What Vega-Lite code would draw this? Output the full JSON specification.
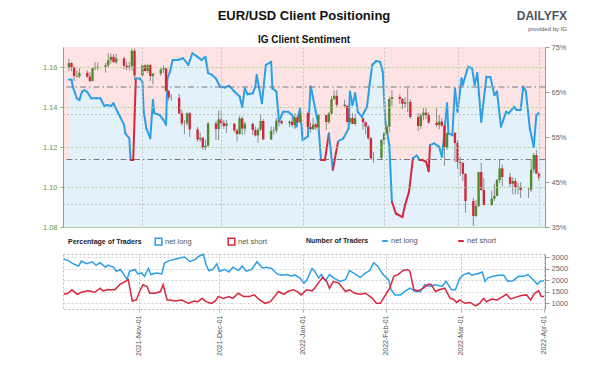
{
"$schema":"https://vega.github.io/schema/vega-lite/v6.json",
"padding":{"left":41,"top":9,"right":5,"bottom":5},
"background":"white",
"title":{"text":"DAILYFX","subtitle":"provided by IG","anchor":"end","frame":"group","fontSize":12,"fontWeight":"bold","color":"#4b5563","subtitleFontSize":6,"subtitleColor":"#555","subtitlePadding":3,"offset":-24,"dx":22},
"config":{"font":"Liberation Sans","axis":{"labelFontSize":7.5,"labelFont":"Liberation Sans"},"legend":{"labelFont":"Liberation Sans","titleFont":"Liberation Sans"}},
"spacing":19,
"datasets":{
"candles":[
{"d":"2021-10-04","o":1.1596,"h":1.1641,"l":1.1580,"c":1.1620},
{"d":"2021-10-05","o":1.1620,"h":1.1624,"l":1.1580,"c":1.1597},
{"d":"2021-10-06","o":1.1597,"h":1.1603,"l":1.1529,"c":1.1555},
{"d":"2021-10-07","o":1.1555,"h":1.1584,"l":1.1549,"c":1.1553},
{"d":"2021-10-08","o":1.1553,"h":1.1594,"l":1.1545,"c":1.1571},
{"d":"2021-10-11","o":1.1571,"h":1.1584,"l":1.1546,"c":1.1552},
{"d":"2021-10-12","o":1.1552,"h":1.1574,"l":1.1524,"c":1.1530},
{"d":"2021-10-13","o":1.1530,"h":1.1595,"l":1.1528,"c":1.1594},
{"d":"2021-10-14","o":1.1594,"h":1.1624,"l":1.1584,"c":1.1598},
{"d":"2021-10-15","o":1.1598,"h":1.1624,"l":1.1585,"c":1.1601},
{"d":"2021-10-18","o":1.1601,"h":1.1622,"l":1.1571,"c":1.1609},
{"d":"2021-10-19","o":1.1609,"h":1.1669,"l":1.1600,"c":1.1634},
{"d":"2021-10-20","o":1.1634,"h":1.1667,"l":1.1618,"c":1.1651},
{"d":"2021-10-21","o":1.1651,"h":1.1665,"l":1.1623,"c":1.1624},
{"d":"2021-10-22","o":1.1624,"h":1.1665,"l":1.1616,"c":1.1643},
{"d":"2021-10-25","o":1.1643,"h":1.1652,"l":1.1588,"c":1.1606},
{"d":"2021-10-26","o":1.1606,"h":1.1625,"l":1.1585,"c":1.1598},
{"d":"2021-10-27","o":1.1598,"h":1.1625,"l":1.1584,"c":1.1604},
{"d":"2021-10-28","o":1.1604,"h":1.1692,"l":1.1582,"c":1.1681},
{"d":"2021-10-29","o":1.1681,"h":1.1692,"l":1.1535,"c":1.1558},
{"d":"2021-11-01","o":1.1558,"h":1.1616,"l":1.1555,"c":1.1608},
{"d":"2021-11-02","o":1.1608,"h":1.1614,"l":1.1578,"c":1.1580},
{"d":"2021-11-03","o":1.1580,"h":1.1616,"l":1.1570,"c":1.1609},
{"d":"2021-11-04","o":1.1609,"h":1.1616,"l":1.1529,"c":1.1555},
{"d":"2021-11-05","o":1.1555,"h":1.1570,"l":1.1513,"c":1.1567},
{"d":"2021-11-08","o":1.1567,"h":1.1597,"l":1.1556,"c":1.1587},
{"d":"2021-11-09","o":1.1587,"h":1.1608,"l":1.1570,"c":1.1593},
{"d":"2021-11-10","o":1.1593,"h":1.1595,"l":1.1479,"c":1.1480},
{"d":"2021-11-11","o":1.1480,"h":1.1486,"l":1.1432,"c":1.1447},
{"d":"2021-11-12","o":1.1447,"h":1.1465,"l":1.1432,"c":1.1446},
{"d":"2021-11-15","o":1.1446,"h":1.1465,"l":1.1366,"c":1.1368},
{"d":"2021-11-16","o":1.1368,"h":1.1385,"l":1.1307,"c":1.1318},
{"d":"2021-11-17","o":1.1318,"h":1.1335,"l":1.1264,"c":1.1319},
{"d":"2021-11-18","o":1.1319,"h":1.1373,"l":1.1308,"c":1.1369},
{"d":"2021-11-19","o":1.1369,"h":1.1375,"l":1.1249,"c":1.1288},
{"d":"2021-11-22","o":1.1288,"h":1.1300,"l":1.1226,"c":1.1238},
{"d":"2021-11-23","o":1.1238,"h":1.1272,"l":1.1226,"c":1.1246},
{"d":"2021-11-24","o":1.1246,"h":1.1251,"l":1.1186,"c":1.1197},
{"d":"2021-11-25","o":1.1197,"h":1.1236,"l":1.1185,"c":1.1206},
{"d":"2021-11-26","o":1.1206,"h":1.1324,"l":1.1203,"c":1.1318},
{"d":"2021-11-29","o":1.1318,"h":1.1330,"l":1.1235,"c":1.1290},
{"d":"2021-11-30","o":1.1290,"h":1.1383,"l":1.1235,"c":1.1338},
{"d":"2021-12-01","o":1.1338,"h":1.1383,"l":1.1301,"c":1.1320},
{"d":"2021-12-02","o":1.1320,"h":1.1335,"l":1.1290,"c":1.1305},
{"d":"2021-12-03","o":1.1305,"h":1.1335,"l":1.1270,"c":1.1317},
{"d":"2021-12-06","o":1.1317,"h":1.1320,"l":1.1273,"c":1.1283},
{"d":"2021-12-07","o":1.1283,"h":1.1292,"l":1.1227,"c":1.1265},
{"d":"2021-12-08","o":1.1265,"h":1.1355,"l":1.1260,"c":1.1343},
{"d":"2021-12-09","o":1.1343,"h":1.1353,"l":1.1261,"c":1.1292},
{"d":"2021-12-10","o":1.1292,"h":1.1325,"l":1.1265,"c":1.1316},
{"d":"2021-12-13","o":1.1316,"h":1.1321,"l":1.1260,"c":1.1285},
{"d":"2021-12-14","o":1.1285,"h":1.1302,"l":1.1252,"c":1.1258},
{"d":"2021-12-15","o":1.1258,"h":1.1297,"l":1.1222,"c":1.1287},
{"d":"2021-12-16","o":1.1287,"h":1.1361,"l":1.1279,"c":1.1330},
{"d":"2021-12-17","o":1.1330,"h":1.1340,"l":1.1235,"c":1.1238},
{"d":"2021-12-20","o":1.1238,"h":1.1304,"l":1.1235,"c":1.1280},
{"d":"2021-12-21","o":1.1280,"h":1.1301,"l":1.1262,"c":1.1282},
{"d":"2021-12-22","o":1.1282,"h":1.1345,"l":1.1270,"c":1.1332},
{"d":"2021-12-23","o":1.1332,"h":1.1343,"l":1.1303,"c":1.1330},
{"d":"2021-12-24","o":1.1330,"h":1.1335,"l":1.1312,"c":1.1318},
{"d":"2021-12-27","o":1.1318,"h":1.1333,"l":1.1300,"c":1.1327},
{"d":"2021-12-28","o":1.1327,"h":1.1345,"l":1.1298,"c":1.1310},
{"d":"2021-12-29","o":1.1310,"h":1.1369,"l":1.1290,"c":1.1349},
{"d":"2021-12-30","o":1.1349,"h":1.1362,"l":1.1299,"c":1.1323},
{"d":"2021-12-31","o":1.1323,"h":1.1386,"l":1.1320,"c":1.1370},
{"d":"2022-01-03","o":1.1370,"h":1.1376,"l":1.1285,"c":1.1300},
{"d":"2022-01-04","o":1.1300,"h":1.1322,"l":1.1272,"c":1.1289},
{"d":"2022-01-05","o":1.1289,"h":1.1346,"l":1.1286,"c":1.1313},
{"d":"2022-01-06","o":1.1313,"h":1.1323,"l":1.1285,"c":1.1298},
{"d":"2022-01-07","o":1.1298,"h":1.1364,"l":1.1287,"c":1.1360},
{"d":"2022-01-10","o":1.1360,"h":1.1362,"l":1.1285,"c":1.1325},
{"d":"2022-01-11","o":1.1325,"h":1.1375,"l":1.1315,"c":1.1368},
{"d":"2022-01-12","o":1.1368,"h":1.1455,"l":1.1360,"c":1.1440},
{"d":"2022-01-13","o":1.1440,"h":1.1482,"l":1.1436,"c":1.1456},
{"d":"2022-01-14","o":1.1456,"h":1.1484,"l":1.1401,"c":1.1411},
{"d":"2022-01-17","o":1.1411,"h":1.1436,"l":1.1395,"c":1.1405},
{"d":"2022-01-18","o":1.1405,"h":1.1410,"l":1.1325,"c":1.1325},
{"d":"2022-01-19","o":1.1325,"h":1.1367,"l":1.1313,"c":1.1345},
{"d":"2022-01-20","o":1.1345,"h":1.1370,"l":1.1314,"c":1.1315},
{"d":"2022-01-21","o":1.1315,"h":1.1364,"l":1.1306,"c":1.1343},
{"d":"2022-01-24","o":1.1343,"h":1.1350,"l":1.1287,"c":1.1324},
{"d":"2022-01-25","o":1.1324,"h":1.1328,"l":1.1263,"c":1.1302},
{"d":"2022-01-26","o":1.1302,"h":1.1310,"l":1.1236,"c":1.1244},
{"d":"2022-01-27","o":1.1244,"h":1.1250,"l":1.1135,"c":1.1144},
{"d":"2022-01-28","o":1.1144,"h":1.1174,"l":1.1121,"c":1.1146},
{"d":"2022-01-31","o":1.1146,"h":1.1239,"l":1.1137,"c":1.1235},
{"d":"2022-02-01","o":1.1235,"h":1.1275,"l":1.1212,"c":1.1268},
{"d":"2022-02-02","o":1.1268,"h":1.1315,"l":1.1264,"c":1.1302},
{"d":"2022-02-03","o":1.1302,"h":1.1452,"l":1.1272,"c":1.1440},
{"d":"2022-02-04","o":1.1440,"h":1.1484,"l":1.1405,"c":1.1450},
{"d":"2022-02-07","o":1.1450,"h":1.1463,"l":1.1415,"c":1.1440},
{"d":"2022-02-08","o":1.1440,"h":1.1445,"l":1.1389,"c":1.1416},
{"d":"2022-02-09","o":1.1416,"h":1.1449,"l":1.1397,"c":1.1424},
{"d":"2022-02-10","o":1.1424,"h":1.1495,"l":1.1375,"c":1.1425},
{"d":"2022-02-11","o":1.1425,"h":1.1438,"l":1.1341,"c":1.1350},
{"d":"2022-02-14","o":1.1350,"h":1.1370,"l":1.1280,"c":1.1305},
{"d":"2022-02-15","o":1.1305,"h":1.1368,"l":1.1290,"c":1.1358},
{"d":"2022-02-16","o":1.1358,"h":1.1395,"l":1.1334,"c":1.1372},
{"d":"2022-02-17","o":1.1372,"h":1.1395,"l":1.1339,"c":1.1360},
{"d":"2022-02-18","o":1.1360,"h":1.1374,"l":1.1316,"c":1.1322},
{"d":"2022-02-21","o":1.1322,"h":1.1395,"l":1.1300,"c":1.1310},
{"d":"2022-02-22","o":1.1310,"h":1.1360,"l":1.1289,"c":1.1327},
{"d":"2022-02-23","o":1.1327,"h":1.1345,"l":1.1300,"c":1.1307},
{"d":"2022-02-24","o":1.1307,"h":1.1314,"l":1.1106,"c":1.1197},
{"d":"2022-02-25","o":1.1197,"h":1.1273,"l":1.1185,"c":1.1270},
{"d":"2022-02-28","o":1.1270,"h":1.1277,"l":1.1124,"c":1.1220},
{"d":"2022-03-01","o":1.1220,"h":1.1233,"l":1.1091,"c":1.1125},
{"d":"2022-03-02","o":1.1125,"h":1.1152,"l":1.1055,"c":1.1120},
{"d":"2022-03-03","o":1.1120,"h":1.1125,"l":1.1030,"c":1.1066},
{"d":"2022-03-04","o":1.1066,"h":1.1068,"l":1.0871,"c":1.0930},
{"d":"2022-03-07","o":1.0930,"h":1.0946,"l":1.0806,"c":1.0855},
{"d":"2022-03-08","o":1.0855,"h":1.0934,"l":1.0850,"c":1.0905},
{"d":"2022-03-09","o":1.0905,"h":1.1076,"l":1.0900,"c":1.1075},
{"d":"2022-03-10","o":1.1075,"h":1.1121,"l":1.0981,"c":1.0985},
{"d":"2022-03-11","o":1.0985,"h":1.1044,"l":1.0908,"c":1.0910},
{"d":"2022-03-14","o":1.0910,"h":1.0983,"l":1.0905,"c":1.0942},
{"d":"2022-03-15","o":1.0942,"h":1.1017,"l":1.0930,"c":1.0955},
{"d":"2022-03-16","o":1.0955,"h":1.1041,"l":1.0955,"c":1.1035},
{"d":"2022-03-17","o":1.1035,"h":1.1137,"l":1.1020,"c":1.1093},
{"d":"2022-03-18","o":1.1093,"h":1.1112,"l":1.1004,"c":1.1050},
{"d":"2022-03-21","o":1.1050,"h":1.1070,"l":1.1000,"c":1.1016},
{"d":"2022-03-22","o":1.1016,"h":1.1048,"l":1.0963,"c":1.1030},
{"d":"2022-03-23","o":1.1030,"h":1.1044,"l":1.0963,"c":1.1000},
{"d":"2022-03-24","o":1.1000,"h":1.1020,"l":1.0965,"c":1.1001},
{"d":"2022-03-25","o":1.1001,"h":1.1024,"l":1.0945,"c":1.0985},
{"d":"2022-03-28","o":1.0985,"h":1.0998,"l":1.0945,"c":1.0986},
{"d":"2022-03-29","o":1.0986,"h":1.1137,"l":1.0975,"c":1.1087},
{"d":"2022-03-30","o":1.1087,"h":1.1170,"l":1.1070,"c":1.1160},
{"d":"2022-03-31","o":1.1160,"h":1.1185,"l":1.1065,"c":1.1067},
{"d":"2022-04-01","o":1.1067,"h":1.1076,"l":1.1030,"c":1.1046}
],
"senti":[
{"d":"2021-10-04","p":67.8,"s":"net long"},
{"d":"2021-10-05","p":67.7,"s":"net long"},
{"d":"2021-10-05T12:00:00Z","p":66.2,"s":"net long"},
{"d":"2021-10-07","p":63.6,"s":"net long"},
{"d":"2021-10-08","p":63.2,"s":"net long"},
{"d":"2021-10-09","p":65.1,"s":"net long"},
{"d":"2021-10-10","p":65.4,"s":"net long"},
{"d":"2021-10-11","p":65.0,"s":"net long"},
{"d":"2021-10-12T12:00:00Z","p":63.6,"s":"net long"},
{"d":"2021-10-14T12:00:00Z","p":63.6,"s":"net long"},
{"d":"2021-10-16","p":63.6,"s":"net long"},
{"d":"2021-10-17T12:00:00Z","p":61.9,"s":"net long"},
{"d":"2021-10-18T12:00:00Z","p":62.1,"s":"net long"},
{"d":"2021-10-20","p":61.9,"s":"net long"},
{"d":"2021-10-21","p":62.5,"s":"net long"},
{"d":"2021-10-22T12:00:00Z","p":60.6,"s":"net long"},
{"d":"2021-10-23T12:00:00Z","p":59.5,"s":"net long"},
{"d":"2021-10-25","p":57.7,"s":"net long"},
{"d":"2021-10-25T12:00:00Z","p":55.8,"s":"net long"},
{"d":"2021-10-27","p":54.7,"s":"net long"},
{"d":"2021-10-27T12:00:00Z","p":49.9,"s":"net short"},
{"d":"2021-10-28T12:00:00Z","p":49.9,"s":"net short"},
{"d":"2021-10-29T12:00:00Z","p":68.0,"s":"net long"},
{"d":"2021-10-31","p":68.0,"s":"net long"},
{"d":"2021-11-01","p":67.3,"s":"net long"},
{"d":"2021-11-01T12:00:00Z","p":60.6,"s":"net long"},
{"d":"2021-11-02T12:00:00Z","p":56.9,"s":"net long"},
{"d":"2021-11-04","p":54.7,"s":"net long"},
{"d":"2021-11-05","p":63.2,"s":"net long"},
{"d":"2021-11-05T12:00:00Z","p":60.3,"s":"net long"},
{"d":"2021-11-07T12:00:00Z","p":59.9,"s":"net long"},
{"d":"2021-11-09","p":58.8,"s":"net long"},
{"d":"2021-11-10","p":57.7,"s":"net long"},
{"d":"2021-11-10T12:00:00Z","p":68.0,"s":"net long"},
{"d":"2021-11-11T12:00:00Z","p":69.5,"s":"net long"},
{"d":"2021-11-12T12:00:00Z","p":72.1,"s":"net long"},
{"d":"2021-11-14T12:00:00Z","p":72.1,"s":"net long"},
{"d":"2021-11-16T12:00:00Z","p":72.5,"s":"net long"},
{"d":"2021-11-18","p":71.4,"s":"net long"},
{"d":"2021-11-18T12:00:00Z","p":71.0,"s":"net long"},
{"d":"2021-11-20","p":73.6,"s":"net long"},
{"d":"2021-11-22","p":72.8,"s":"net long"},
{"d":"2021-11-23T12:00:00Z","p":72.1,"s":"net long"},
{"d":"2021-11-25","p":72.8,"s":"net long"},
{"d":"2021-11-26","p":69.2,"s":"net long"},
{"d":"2021-11-27T12:00:00Z","p":68.8,"s":"net long"},
{"d":"2021-11-29","p":68.0,"s":"net long"},
{"d":"2021-11-30T12:00:00Z","p":66.2,"s":"net long"},
{"d":"2021-12-02T12:00:00Z","p":66.0,"s":"net long"},
{"d":"2021-12-04","p":66.4,"s":"net long"},
{"d":"2021-12-06","p":65.1,"s":"net long"},
{"d":"2021-12-08","p":64.0,"s":"net long"},
{"d":"2021-12-09","p":61.7,"s":"net long"},
{"d":"2021-12-10","p":65.8,"s":"net long"},
{"d":"2021-12-11","p":64.5,"s":"net long"},
{"d":"2021-12-13","p":64.7,"s":"net long"},
{"d":"2021-12-14","p":66.2,"s":"net long"},
{"d":"2021-12-14T12:00:00Z","p":68.8,"s":"net long"},
{"d":"2021-12-16T12:00:00Z","p":62.5,"s":"net long"},
{"d":"2021-12-18","p":71.0,"s":"net long"},
{"d":"2021-12-20","p":71.7,"s":"net long"},
{"d":"2021-12-20T12:00:00Z","p":65.8,"s":"net long"},
{"d":"2021-12-22","p":65.1,"s":"net long"},
{"d":"2021-12-23","p":58.4,"s":"net long"},
{"d":"2021-12-24T12:00:00Z","p":60.6,"s":"net long"},
{"d":"2021-12-26T12:00:00Z","p":60.6,"s":"net long"},
{"d":"2021-12-28","p":59.9,"s":"net long"},
{"d":"2021-12-29T12:00:00Z","p":57.3,"s":"net long"},
{"d":"2021-12-31","p":61.4,"s":"net long"},
{"d":"2022-01-01","p":54.3,"s":"net long"},
{"d":"2022-01-03","p":55.1,"s":"net long"},
{"d":"2022-01-04","p":66.2,"s":"net long"},
{"d":"2022-01-04T12:00:00Z","p":65.1,"s":"net long"},
{"d":"2022-01-06","p":60.6,"s":"net long"},
{"d":"2022-01-07","p":57.7,"s":"net long"},
{"d":"2022-01-08","p":49.9,"s":"net short"},
{"d":"2022-01-09T12:00:00Z","p":49.9,"s":"net short"},
{"d":"2022-01-11","p":55.8,"s":"net long"},
{"d":"2022-01-12T12:00:00Z","p":47.7,"s":"net short"},
{"d":"2022-01-14T12:00:00Z","p":54.0,"s":"net long"},
{"d":"2022-01-16T12:00:00Z","p":54.7,"s":"net long"},
{"d":"2022-01-18T12:00:00Z","p":56.9,"s":"net long"},
{"d":"2022-01-19","p":65.1,"s":"net long"},
{"d":"2022-01-20","p":62.1,"s":"net long"},
{"d":"2022-01-21","p":64.7,"s":"net long"},
{"d":"2022-01-22","p":60.6,"s":"net long"},
{"d":"2022-01-23T12:00:00Z","p":59.5,"s":"net long"},
{"d":"2022-01-24T12:00:00Z","p":60.6,"s":"net long"},
{"d":"2022-01-25T12:00:00Z","p":61.7,"s":"net long"},
{"d":"2022-01-26T12:00:00Z","p":66.6,"s":"net long"},
{"d":"2022-01-27T12:00:00Z","p":71.0,"s":"net long"},
{"d":"2022-01-29","p":71.9,"s":"net long"},
{"d":"2022-01-30T12:00:00Z","p":71.7,"s":"net long"},
{"d":"2022-01-31T12:00:00Z","p":69.5,"s":"net long"},
{"d":"2022-02-01T12:00:00Z","p":58.4,"s":"net long"},
{"d":"2022-02-03","p":53.2,"s":"net long"},
{"d":"2022-02-04","p":40.6,"s":"net short"},
{"d":"2022-02-05T12:00:00Z","p":38.0,"s":"net short"},
{"d":"2022-02-08","p":37.2,"s":"net short"},
{"d":"2022-02-09","p":39.9,"s":"net short"},
{"d":"2022-02-10T12:00:00Z","p":42.8,"s":"net short"},
{"d":"2022-02-12","p":50.3,"s":"net long"},
{"d":"2022-02-13T12:00:00Z","p":50.9,"s":"net long"},
{"d":"2022-02-14T12:00:00Z","p":49.9,"s":"net short"},
{"d":"2022-02-15T12:00:00Z","p":49.9,"s":"net short"},
{"d":"2022-02-17","p":49.5,"s":"net short"},
{"d":"2022-02-18","p":47.4,"s":"net short"},
{"d":"2022-02-18T12:00:00Z","p":53.2,"s":"net long"},
{"d":"2022-02-20","p":53.6,"s":"net long"},
{"d":"2022-02-22","p":52.8,"s":"net long"},
{"d":"2022-02-23","p":50.6,"s":"net long"},
{"d":"2022-02-23T12:00:00Z","p":53.2,"s":"net long"},
{"d":"2022-02-25","p":62.5,"s":"net long"},
{"d":"2022-02-25T12:00:00Z","p":55.8,"s":"net long"},
{"d":"2022-02-27","p":55.4,"s":"net long"},
{"d":"2022-02-28","p":65.8,"s":"net long"},
{"d":"2022-03-01","p":60.6,"s":"net long"},
{"d":"2022-03-02T12:00:00Z","p":68.0,"s":"net long"},
{"d":"2022-03-03","p":66.6,"s":"net long"},
{"d":"2022-03-05","p":70.6,"s":"net long"},
{"d":"2022-03-06T12:00:00Z","p":70.3,"s":"net long"},
{"d":"2022-03-07T12:00:00Z","p":66.6,"s":"net long"},
{"d":"2022-03-08T12:00:00Z","p":69.2,"s":"net long"},
{"d":"2022-03-10","p":58.4,"s":"net long"},
{"d":"2022-03-12","p":68.4,"s":"net long"},
{"d":"2022-03-13T12:00:00Z","p":68.3,"s":"net long"},
{"d":"2022-03-15","p":64.3,"s":"net long"},
{"d":"2022-03-16","p":65.1,"s":"net long"},
{"d":"2022-03-17T12:00:00Z","p":57.3,"s":"net long"},
{"d":"2022-03-19T12:00:00Z","p":60.6,"s":"net long"},
{"d":"2022-03-20T12:00:00Z","p":60.3,"s":"net long"},
{"d":"2022-03-22T12:00:00Z","p":61.7,"s":"net long"},
{"d":"2022-03-23T12:00:00Z","p":61.0,"s":"net long"},
{"d":"2022-03-25","p":61.0,"s":"net long"},
{"d":"2022-03-26","p":66.2,"s":"net long"},
{"d":"2022-03-27","p":65.1,"s":"net long"},
{"d":"2022-03-28T12:00:00Z","p":56.9,"s":"net long"},
{"d":"2022-03-30","p":52.8,"s":"net long"},
{"d":"2022-03-31","p":59.9,"s":"net long"},
{"d":"2022-04-01","p":60.3,"s":"net long"}
],
"traders":[
{"d":"2021-10-04","series":"net long","v":2899},
{"d":"2021-10-05T12:00:00Z","series":"net long","v":2855},
{"d":"2021-10-07T12:00:00Z","series":"net long","v":2707},
{"d":"2021-10-09T12:00:00Z","series":"net long","v":2604},
{"d":"2021-10-10T12:00:00Z","series":"net long","v":2824},
{"d":"2021-10-12T12:00:00Z","series":"net long","v":2707},
{"d":"2021-10-14T12:00:00Z","series":"net long","v":2795},
{"d":"2021-10-16","series":"net long","v":2648},
{"d":"2021-10-17T12:00:00Z","series":"net long","v":2750},
{"d":"2021-10-19T12:00:00Z","series":"net long","v":2560},
{"d":"2021-10-20T12:00:00Z","series":"net long","v":2648},
{"d":"2021-10-22T12:00:00Z","series":"net long","v":2560},
{"d":"2021-10-23T12:00:00Z","series":"net long","v":2385},
{"d":"2021-10-25","series":"net long","v":2460},
{"d":"2021-10-26","series":"net long","v":2310},
{"d":"2021-10-27T12:00:00Z","series":"net long","v":2020},
{"d":"2021-10-28T12:00:00Z","series":"net long","v":2385},
{"d":"2021-10-30T12:00:00Z","series":"net long","v":2460},
{"d":"2021-10-31T12:00:00Z","series":"net long","v":2266},
{"d":"2021-11-02","series":"net long","v":2310},
{"d":"2021-11-03","series":"net long","v":2165},
{"d":"2021-11-04T12:00:00Z","series":"net long","v":2502},
{"d":"2021-11-05T12:00:00Z","series":"net long","v":2240},
{"d":"2021-11-07T12:00:00Z","series":"net long","v":2310},
{"d":"2021-11-09T12:00:00Z","series":"net long","v":2266},
{"d":"2021-11-10T12:00:00Z","series":"net long","v":2750},
{"d":"2021-11-12T12:00:00Z","series":"net long","v":2855},
{"d":"2021-11-14T12:00:00Z","series":"net long","v":2899},
{"d":"2021-11-16T12:00:00Z","series":"net long","v":2970},
{"d":"2021-11-18","series":"net long","v":3000},
{"d":"2021-11-20","series":"net long","v":2795},
{"d":"2021-11-22","series":"net long","v":2899},
{"d":"2021-11-23T12:00:00Z","series":"net long","v":3044},
{"d":"2021-11-25","series":"net long","v":3119},
{"d":"2021-11-26","series":"net long","v":2678},
{"d":"2021-11-27","series":"net long","v":2415},
{"d":"2021-11-28T12:00:00Z","series":"net long","v":2460},
{"d":"2021-11-30","series":"net long","v":2707},
{"d":"2021-12-01","series":"net long","v":2385},
{"d":"2021-12-03","series":"net long","v":2460},
{"d":"2021-12-04T12:00:00Z","series":"net long","v":2354},
{"d":"2021-12-06","series":"net long","v":2560},
{"d":"2021-12-08","series":"net long","v":2415},
{"d":"2021-12-09T12:00:00Z","series":"net long","v":2604},
{"d":"2021-12-11","series":"net long","v":2385},
{"d":"2021-12-13","series":"net long","v":2460},
{"d":"2021-12-15","series":"net long","v":2795},
{"d":"2021-12-17","series":"net long","v":2530},
{"d":"2021-12-18T12:00:00Z","series":"net long","v":2560},
{"d":"2021-12-20T12:00:00Z","series":"net long","v":2502},
{"d":"2021-12-22T12:00:00Z","series":"net long","v":2266},
{"d":"2021-12-24","series":"net long","v":2209},
{"d":"2021-12-26","series":"net long","v":2240},
{"d":"2021-12-28","series":"net long","v":2165},
{"d":"2021-12-29","series":"net long","v":2240},
{"d":"2021-12-31","series":"net long","v":2090},
{"d":"2022-01-01T12:00:00Z","series":"net long","v":1870},
{"d":"2022-01-02T12:00:00Z","series":"net long","v":1976},
{"d":"2022-01-04T12:00:00Z","series":"net long","v":2502},
{"d":"2022-01-05T12:00:00Z","series":"net long","v":2385},
{"d":"2022-01-07","series":"net long","v":2090},
{"d":"2022-01-08","series":"net long","v":2240},
{"d":"2022-01-09T12:00:00Z","series":"net long","v":1976},
{"d":"2022-01-11","series":"net long","v":2240},
{"d":"2022-01-13","series":"net long","v":2064},
{"d":"2022-01-15","series":"net long","v":1945},
{"d":"2022-01-17","series":"net long","v":2020},
{"d":"2022-01-18T12:00:00Z","series":"net long","v":2415},
{"d":"2022-01-20T12:00:00Z","series":"net long","v":2266},
{"d":"2022-01-22T12:00:00Z","series":"net long","v":2121},
{"d":"2022-01-24T12:00:00Z","series":"net long","v":2310},
{"d":"2022-01-26","series":"net long","v":2415},
{"d":"2022-01-27T12:00:00Z","series":"net long","v":2750},
{"d":"2022-01-29","series":"net long","v":2604},
{"d":"2022-01-31","series":"net long","v":2240},
{"d":"2022-02-02","series":"net long","v":2020},
{"d":"2022-02-03","series":"net long","v":1580},
{"d":"2022-02-04T12:00:00Z","series":"net long","v":1360},
{"d":"2022-02-06T12:00:00Z","series":"net long","v":1360},
{"d":"2022-02-08","series":"net long","v":1505},
{"d":"2022-02-10","series":"net long","v":1650},
{"d":"2022-02-12","series":"net long","v":1505},
{"d":"2022-02-14","series":"net long","v":1505},
{"d":"2022-02-15T12:00:00Z","series":"net long","v":1800},
{"d":"2022-02-17T12:00:00Z","series":"net long","v":1725},
{"d":"2022-02-19T12:00:00Z","series":"net long","v":1800},
{"d":"2022-02-22","series":"net long","v":1725},
{"d":"2022-02-23T12:00:00Z","series":"net long","v":1945},
{"d":"2022-02-25T12:00:00Z","series":"net long","v":1580},
{"d":"2022-02-27","series":"net long","v":1580},
{"d":"2022-02-28T12:00:00Z","series":"net long","v":2064},
{"d":"2022-03-02","series":"net long","v":2240},
{"d":"2022-03-04","series":"net long","v":2310},
{"d":"2022-03-05","series":"net long","v":2209},
{"d":"2022-03-07","series":"net long","v":2266},
{"d":"2022-03-09","series":"net long","v":2354},
{"d":"2022-03-10","series":"net long","v":1945},
{"d":"2022-03-11","series":"net long","v":2090},
{"d":"2022-03-13","series":"net long","v":2165},
{"d":"2022-03-15","series":"net long","v":2209},
{"d":"2022-03-17","series":"net long","v":2209},
{"d":"2022-03-18T12:00:00Z","series":"net long","v":1945},
{"d":"2022-03-20T12:00:00Z","series":"net long","v":1976},
{"d":"2022-03-22T12:00:00Z","series":"net long","v":2165},
{"d":"2022-03-24T12:00:00Z","series":"net long","v":2165},
{"d":"2022-03-26","series":"net long","v":2240},
{"d":"2022-03-28","series":"net long","v":2020},
{"d":"2022-03-29T12:00:00Z","series":"net long","v":1826},
{"d":"2022-03-30T12:00:00Z","series":"net long","v":1945},
{"d":"2022-04-01","series":"net long","v":1976},
{"d":"2021-10-04","series":"net short","v":1387},
{"d":"2021-10-05T12:00:00Z","series":"net short","v":1431},
{"d":"2021-10-07","series":"net short","v":1580},
{"d":"2021-10-09","series":"net short","v":1387},
{"d":"2021-10-10T12:00:00Z","series":"net short","v":1475},
{"d":"2021-10-13","series":"net short","v":1536},
{"d":"2021-10-15T12:00:00Z","series":"net short","v":1475},
{"d":"2021-10-17T12:00:00Z","series":"net short","v":1650},
{"d":"2021-10-18T12:00:00Z","series":"net short","v":1536},
{"d":"2021-10-20T12:00:00Z","series":"net short","v":1580},
{"d":"2021-10-23","series":"net short","v":1580},
{"d":"2021-10-25","series":"net short","v":1826},
{"d":"2021-10-27","series":"net short","v":1945},
{"d":"2021-10-28","series":"net short","v":2020},
{"d":"2021-10-29T12:00:00Z","series":"net short","v":1097},
{"d":"2021-10-31","series":"net short","v":1141},
{"d":"2021-11-01T12:00:00Z","series":"net short","v":1580},
{"d":"2021-11-02T12:00:00Z","series":"net short","v":1800},
{"d":"2021-11-04","series":"net short","v":1725},
{"d":"2021-11-05","series":"net short","v":1431},
{"d":"2021-11-07","series":"net short","v":1431},
{"d":"2021-11-09","series":"net short","v":1505},
{"d":"2021-11-10","series":"net short","v":1800},
{"d":"2021-11-11T12:00:00Z","series":"net short","v":1141},
{"d":"2021-11-12T12:00:00Z","series":"net short","v":1141},
{"d":"2021-11-14T12:00:00Z","series":"net short","v":1097},
{"d":"2021-11-17","series":"net short","v":1141},
{"d":"2021-11-19T12:00:00Z","series":"net short","v":996},
{"d":"2021-11-21T12:00:00Z","series":"net short","v":1097},
{"d":"2021-11-23","series":"net short","v":1066},
{"d":"2021-11-24T12:00:00Z","series":"net short","v":1211},
{"d":"2021-11-26","series":"net short","v":1066},
{"d":"2021-11-28","series":"net short","v":996},
{"d":"2021-11-29T12:00:00Z","series":"net short","v":1097},
{"d":"2021-11-30T12:00:00Z","series":"net short","v":1286},
{"d":"2021-12-02T12:00:00Z","series":"net short","v":1211},
{"d":"2021-12-04T12:00:00Z","series":"net short","v":1286},
{"d":"2021-12-06","series":"net short","v":1211},
{"d":"2021-12-08","series":"net short","v":1431},
{"d":"2021-12-10","series":"net short","v":1286},
{"d":"2021-12-12","series":"net short","v":1286},
{"d":"2021-12-14","series":"net short","v":1360},
{"d":"2021-12-16","series":"net short","v":1141},
{"d":"2021-12-18","series":"net short","v":996},
{"d":"2021-12-20","series":"net short","v":1066},
{"d":"2021-12-21T12:00:00Z","series":"net short","v":1286},
{"d":"2021-12-23","series":"net short","v":1505},
{"d":"2021-12-25","series":"net short","v":1387},
{"d":"2021-12-26T12:00:00Z","series":"net short","v":1505},
{"d":"2021-12-28T12:00:00Z","series":"net short","v":1580},
{"d":"2021-12-30","series":"net short","v":1505},
{"d":"2021-12-31T12:00:00Z","series":"net short","v":1360},
{"d":"2022-01-02T12:00:00Z","series":"net short","v":1580},
{"d":"2022-01-04T12:00:00Z","series":"net short","v":1536},
{"d":"2022-01-05T12:00:00Z","series":"net short","v":1650},
{"d":"2022-01-07T12:00:00Z","series":"net short","v":1976},
{"d":"2022-01-08T12:00:00Z","series":"net short","v":2121},
{"d":"2022-01-10","series":"net short","v":1945},
{"d":"2022-01-11","series":"net short","v":1650},
{"d":"2022-01-12T12:00:00Z","series":"net short","v":1945},
{"d":"2022-01-14T12:00:00Z","series":"net short","v":1870},
{"d":"2022-01-17","series":"net short","v":1505},
{"d":"2022-01-18T12:00:00Z","series":"net short","v":1580},
{"d":"2022-01-20T12:00:00Z","series":"net short","v":1431},
{"d":"2022-01-22T12:00:00Z","series":"net short","v":1387},
{"d":"2022-01-24T12:00:00Z","series":"net short","v":1431},
{"d":"2022-01-27","series":"net short","v":1211},
{"d":"2022-01-28T12:00:00Z","series":"net short","v":996},
{"d":"2022-01-30","series":"net short","v":996},
{"d":"2022-01-31T12:00:00Z","series":"net short","v":1286},
{"d":"2022-02-02T12:00:00Z","series":"net short","v":1650},
{"d":"2022-02-04","series":"net short","v":2165},
{"d":"2022-02-05T12:00:00Z","series":"net short","v":2240},
{"d":"2022-02-07T12:00:00Z","series":"net short","v":2415},
{"d":"2022-02-09","series":"net short","v":2460},
{"d":"2022-02-10","series":"net short","v":2385},
{"d":"2022-02-11T12:00:00Z","series":"net short","v":1580},
{"d":"2022-02-13","series":"net short","v":1536},
{"d":"2022-02-15","series":"net short","v":1650},
{"d":"2022-02-17","series":"net short","v":1826},
{"d":"2022-02-18","series":"net short","v":1800},
{"d":"2022-02-19T12:00:00Z","series":"net short","v":1505},
{"d":"2022-02-21","series":"net short","v":1580},
{"d":"2022-02-23","series":"net short","v":1650},
{"d":"2022-02-25","series":"net short","v":1211},
{"d":"2022-02-26","series":"net short","v":1183},
{"d":"2022-02-27T12:00:00Z","series":"net short","v":1035},
{"d":"2022-02-28T12:00:00Z","series":"net short","v":1141},
{"d":"2022-03-02T12:00:00Z","series":"net short","v":996},
{"d":"2022-03-04T12:00:00Z","series":"net short","v":1035},
{"d":"2022-03-06T12:00:00Z","series":"net short","v":890},
{"d":"2022-03-08","series":"net short","v":996},
{"d":"2022-03-09T12:00:00Z","series":"net short","v":1211},
{"d":"2022-03-10T12:00:00Z","series":"net short","v":1066},
{"d":"2022-03-12T12:00:00Z","series":"net short","v":1183},
{"d":"2022-03-14T12:00:00Z","series":"net short","v":1141},
{"d":"2022-03-16","series":"net short","v":1243},
{"d":"2022-03-18","series":"net short","v":1387},
{"d":"2022-03-19T12:00:00Z","series":"net short","v":1183},
{"d":"2022-03-21","series":"net short","v":1243},
{"d":"2022-03-23T12:00:00Z","series":"net short","v":1330},
{"d":"2022-03-25T12:00:00Z","series":"net short","v":1360},
{"d":"2022-03-27","series":"net short","v":1141},
{"d":"2022-03-28T12:00:00Z","series":"net short","v":1431},
{"d":"2022-03-30","series":"net short","v":1536},
{"d":"2022-03-31","series":"net short","v":1286},
{"d":"2022-04-01","series":"net short","v":1286}
]
},
"vconcat":[
{
"width":482,"height":180,
"title":{"text":"EUR/USD Client Positioning","subtitle":"IG Client Sentiment","anchor":"middle","frame":"group","fontSize":13,"fontWeight":"bold","color":"#111","subtitleFontSize":10,"subtitleFontWeight":"bold","subtitleColor":"#111","subtitlePadding":12,"offset":-1.5},
"view":{"fill":"#e3f1fb","stroke":"#bdbdbd","strokeDash":[2,2]},
"resolve":{"scale":{"y":"independent"}},
"layer":[
{"layer":[
{"data":{"values":[{}]},"mark":{"type":"rect","color":"#fde3e3"},
 "encoding":{"y":{"datum":50,"type":"quantitative","scale":{"domain":[35,75],"nice":false,"zero":false},
   "axis":{"orient":"right","values":[35,40,45,50,55,60,65,70,75],"labelExpr":"datum.value + '%'","labelOverlap":false,"title":null,"grid":false,"labelColor":"#666","tickColor":"#999","domainColor":"#999","tickSize":4,"labelPadding":2,"zindex":1}},
  "y2":{"datum":75}}},
{"data":{"name":"senti"},"mark":{"type":"area","color":"#e3f1fb"},
 "encoding":{"x":{"field":"d","type":"temporal",
   "scale":{"type":"utc","domain":[{"year":2021,"month":10,"date":3,"hours":16,"utc":true},{"year":2022,"month":4,"date":1,"hours":9,"utc":true}]},
   "axis":{"orient":"bottom","values":[{"year":2021,"month":11,"date":1,"utc":true},{"year":2021,"month":12,"date":1,"utc":true},{"year":2022,"month":1,"date":1,"utc":true},{"year":2022,"month":2,"date":1,"utc":true},{"year":2022,"month":3,"date":1,"utc":true},{"year":2022,"month":4,"date":1,"utc":true}],"grid":true,"gridColor":"#c4c4c4","gridDash":[2,2],"labels":false,"ticks":false,"domain":false,"title":null,"zindex":1}},
  "y":{"field":"p","type":"quantitative"},"y2":{"datum":35}}},
{"data":{"values":[{}]},"mark":{"type":"rule","color":"#c4c4c4","strokeDash":[2,2]},"encoding":{"y":{"datum":40,"type":"quantitative"}}},
{"data":{"values":[{}]},"mark":{"type":"rule","color":"#c4c4c4","strokeDash":[2,2]},"encoding":{"y":{"datum":60,"type":"quantitative"}}},
{"data":{"values":[{}]},"mark":{"type":"rule","color":"#7a7a7a","strokeDash":[6,3,1.5,3]},"encoding":{"y":{"datum":50,"type":"quantitative"}}},
{"data":{"name":"senti"},
 "transform":[{"window":[{"op":"lead","field":"d","as":"d2"},{"op":"lead","field":"p","as":"p2"}],"sort":[{"field":"d","order":"ascending"}]},{"filter":"datum.p2 != null"}],
 "mark":{"type":"rule","strokeWidth":2,"strokeCap":"round"},
 "encoding":{"x":{"field":"d","type":"temporal"},"x2":{"field":"d2"},"y":{"field":"p","type":"quantitative"},"y2":{"field":"p2"},
  "color":{"field":"s","type":"nominal","scale":{"domain":["net long","net short"],"range":["#2b9fe6","#d7263d"]},
   "legend":{"title":"Percentage of Traders","orient":"none","legendX":5,"legendY":190,"direction":"horizontal","titleOrient":"left","titleFontSize":7,"titleFontWeight":"bold","titleColor":"#222","titlePadding":12,"symbolType":"square","symbolSize":45,"symbolStrokeWidth":1.5,"symbolFillColor":"white","labelFontSize":7.5,"labelColor":"#555","labelOffset":2,"columnPadding":33}}}}
]},
{"layer":[
{"data":{"values":[{}]},"mark":{"type":"rule","color":"#7a7a7a","strokeDash":[6,3,1.5,3]},
 "encoding":{"y":{"datum":1.15,"type":"quantitative","scale":{"domain":[1.08,1.17],"nice":false,"zero":false},
  "axis":{"orient":"left","values":[1.08,1.10,1.12,1.14,1.16],"format":".2f","title":null,"grid":true,"gridColor":"#a8d08d","gridDash":[2,2],"labelColor":"#6b9a3c","domainColor":"#7fb24f","tickColor":"#7fb24f","tickSize":3,"labelPadding":3,"zindex":1}}}},
{"data":{"name":"candles"},"mark":{"type":"rule","color":"#8c8c8c","strokeWidth":1},
 "encoding":{"x":{"field":"d","type":"temporal"},"y":{"field":"l","type":"quantitative"},"y2":{"field":"h"}}},
{"data":{"name":"candles"},"mark":{"type":"bar","width":2.4},
 "encoding":{"x":{"field":"d","type":"temporal"},"y":{"field":"o","type":"quantitative"},"y2":{"field":"c"},
  "fill":{"condition":{"test":"datum.c >= datum.o","value":"#4f8a2b"},"value":"#d0283a"}}}
]}
]
},
{
"width":482,"height":55,
"view":{"stroke":"#bdbdbd","strokeDash":[2,2]},
"data":{"name":"traders"},
"mark":{"type":"line","strokeWidth":1.5},
"encoding":{
 "x":{"field":"d","type":"temporal",
  "scale":{"type":"utc","domain":[{"year":2021,"month":10,"date":3,"hours":16,"utc":true},{"year":2022,"month":4,"date":1,"hours":9,"utc":true}]},
  "axis":{"orient":"bottom","values":[{"year":2021,"month":11,"date":1,"utc":true},{"year":2021,"month":12,"date":1,"utc":true},{"year":2022,"month":1,"date":1,"utc":true},{"year":2022,"month":2,"date":1,"utc":true},{"year":2022,"month":3,"date":1,"utc":true},{"year":2022,"month":4,"date":1,"utc":true}],"format":"%Y-%b-%d","labelAngle":-90,"labelFontSize":7,"labelColor":"#555","grid":true,"gridColor":"#c4c4c4","gridDash":[2,2],"domain":false,"tickColor":"#aaa","tickSize":3,"title":null,"labelPadding":3}},
 "y":{"field":"v","type":"quantitative","scale":{"domain":[750,3130],"nice":false,"zero":false},
  "axis":{"orient":"right","values":[1000,1500,2000,2500,3000],"format":"d","title":null,"grid":true,"gridColor":"#d0d0d0","gridDash":[2,2],"labelColor":"#666","tickColor":"#999","domainColor":"#999","tickSize":4,"labelPadding":2}},
 "stroke":{"field":"series","type":"nominal","scale":{"domain":["net short","net long"],"range":["#d7263d","#2b9fe6"]},
  "legend":{"title":"Number of Traders","values":["net long","net short"],"orient":"none","legendX":243,"legendY":190,"direction":"horizontal","titleOrient":"left","titleFontSize":7,"titleFontWeight":"bold","titleColor":"#222","titlePadding":12,"symbolType":"stroke","symbolSize":30,"symbolStrokeWidth":2,"labelFontSize":7.5,"labelColor":"#555","labelOffset":2,"columnPadding":36}}
}
}
]
}
